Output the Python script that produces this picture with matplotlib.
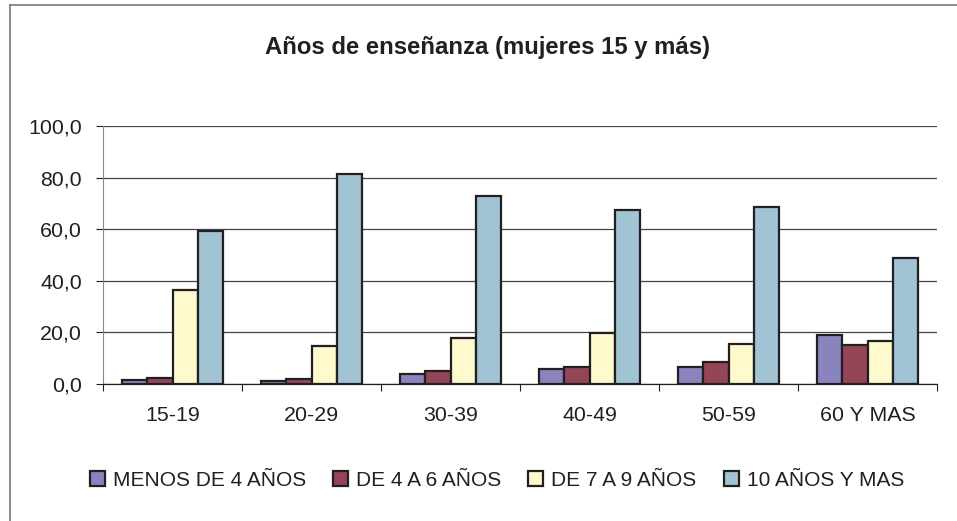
import matplotlib
matplotlib.use("Agg")
import matplotlib.pyplot as plt
from matplotlib.lines import Line2D
from matplotlib.patches import Patch
import numpy as np

plt.rcParams['font.family'] = ['Liberation Sans', 'DejaVu Sans']

categories = ["15-19", "20-29", "30-39", "40-49", "50-59", "60 Y MAS"]
series_names = ["MENOS DE 4 AÑOS", "DE 4 A 6 AÑOS", "DE 7 A 9 AÑOS", "10 AÑOS Y MAS"]
menos4 = [1.5, 1.3, 3.8, 5.7, 6.7, 19.0]
de4a6 = [2.2, 1.9, 5.0, 6.7, 8.6, 15.1]
de7a9 = [36.4, 14.8, 17.7, 19.6, 15.4, 16.8]
diezmas = [59.4, 81.4, 73.0, 67.3, 68.7, 48.7]
colors = ["#8A84BE", "#944558", "#FFFACD", "#A0C4D4"]
yticks = [0, 20, 40, 60, 80, 100]
ytick_labels = ["0,0", "20,0", "40,0", "60,0", "80,0", "100,0"]
title = "Años de enseñanza (mujeres 15 y más)"

W, H = 957, 521
fig = plt.figure(figsize=(W / 100, H / 100), dpi=100)
ax = fig.add_axes([103 / W, 1 - 384 / H, 834 / W, 258 / H])

x = np.arange(len(categories))
bw = 0.182
data = [menos4, de4a6, de7a9, diezmas]
for i, (vals, c) in enumerate(zip(data, colors)):
    ax.bar(x + (i - 1.5) * bw, vals, width=bw, color=c, edgecolor="#231F20",
           linewidth=1.6, zorder=3)

ax.set_xlim(-0.5, len(categories) - 0.5)
ax.set_ylim(0, 100)
ax.set_yticks(yticks)
ax.set_yticklabels(ytick_labels, fontsize=15.4, color="#231F20")
ax.set_xticks(x)
ax.set_xticklabels(categories, fontsize=15.4, color="#231F20")
ax.tick_params(axis="x", length=0, pad=16)
ax.set_xticks(np.arange(-0.5, len(categories), 1.0), minor=True)
ax.tick_params(axis="x", which="minor", length=5, direction="out", color="#231F20", width=0.8)
ax.tick_params(axis="y", length=5, direction="out", color="#231F20", width=0.8, pad=10)
ax.grid(axis="y", color="#444444", linewidth=0.9, zorder=0)
for s in ["top", "right"]:
    ax.spines[s].set_visible(False)
ax.spines["left"].set_color("#888888")
ax.spines["bottom"].set_color("#231F20")
ax.spines["bottom"].set_linewidth(0.9)
ax.set_axisbelow(True)

fig.text(488 / W, 1 - 47 / H, title, ha="center", va="center", fontsize=17.2,
         fontweight="bold", color="#231F20")

handles = [Patch(facecolor=c, edgecolor="#231F20", linewidth=1.6) for c in colors]
fig.legend(handles, series_names, loc="center", bbox_to_anchor=(497 / W, 1 - 480 / H),
           ncol=4, frameon=False, fontsize=15, handlelength=0.72, handleheight=0.72,
           handletextpad=0.38, columnspacing=1.3, labelcolor="#231F20")

fig.add_artist(Line2D([9.5 / W, 9.5 / W], [0, 1 - 5 / H], color="#777777", linewidth=1.2))
fig.add_artist(Line2D([9.5 / W, 1], [1 - 5 / H, 1 - 5 / H], color="#777777", linewidth=1.2))

fig.savefig("out.png", dpi=100)
